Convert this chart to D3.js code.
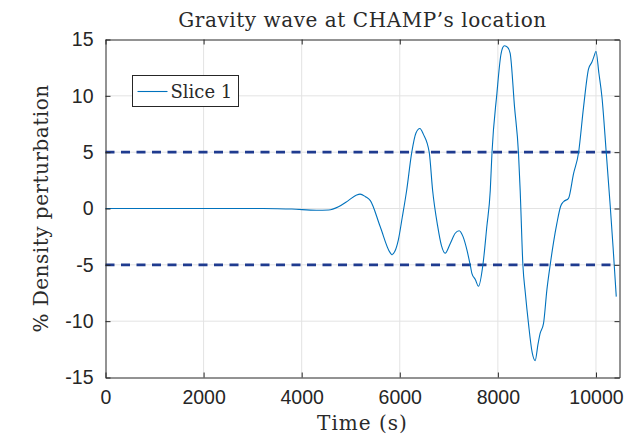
<!DOCTYPE html>
<html>
<head>
<meta charset="utf-8">
<script src="https://cdn.jsdelivr.net/npm/d3@7"></script>
<style>
  body { margin: 0; background: #fff; }
  svg { display: block; }
</style>
</head>
<body>
<div id="chart"></div>
<script>
// time (s) and % density perturbation
const timeS = [0, 1000, 2000, 3000, 3500, 3800, 4300, 4550, 4750, 4950, 5120, 5190, 5300, 5400,
  5600, 5800, 5840, 5900, 5970, 6050, 6140, 6245, 6330, 6410, 6480, 6600, 6670, 6770, 6850,
  6925, 7030, 7130, 7210, 7290, 7370, 7440, 7470, 7540, 7605, 7695, 7775, 7845, 7880, 7980,
  8060, 8100, 8135, 8200, 8250, 8340, 8420, 8455, 8510, 8560, 8624, 8700, 8760, 8820, 8863,
  8931, 9000, 9067, 9135, 9204, 9280, 9338, 9440, 9543, 9645, 9747, 9849, 9918, 9960, 10000,
  10060, 10122, 10210, 10292, 10350, 10414];
const densityPert = [0, 0, 0, 0, -0.02, -0.05, -0.16, -0.13, 0.16, 0.7, 1.2, 1.28, 1.05, 0.7,
  -1.6, -3.9, -4.1, -3.8, -2.8, -0.8, 1.6, 5.0, 6.7, 7.1, 6.6, 5.0, 1.6, -1.5, -3.3,
  -3.97, -3.1, -2.2, -1.97, -2.5, -3.7, -5.1, -5.75, -6.3, -6.9, -5.0, -1.6, 1.6, 4.95, 10.2,
  13.6, 14.3, 14.45, 14.3, 13.8, 9.0, 4.95, 1.6, -5.0, -7.5, -10.2, -12.8, -13.5, -12.0, -11.07,
  -10.2, -7.2, -5.0, -3.0, -1.3, 0.2, 0.6, 0.9, 3.1, 4.95, 9.0, 12.4, 13.0, 13.5, 13.96,
  12.0, 9.9, 4.95, 0.16, -3.5, -7.82];
const thresholds = [5, -5];
const xTicks = [0, 2000, 4000, 6000, 8000, 10000];
const yTicks = [-15, -10, -5, 0, 5, 10, 15];
const seriesName = "Slice 1";

const width = 630, height = 436;
const margin = {top: 39.5, right: 10.5, bottom: 58.5, left: 105.5};
const innerW = width - margin.left - margin.right;
const innerH = height - margin.top - margin.bottom;

const data = timeS.map((t, i) => ({t: t, v: densityPert[i]}));

const x = d3.scaleLinear().domain([0, 10480]).range([0, innerW]);
const y = d3.scaleLinear().domain([-15, 15]).range([innerH, 0]);

const svg = d3.select("#chart").append("svg")
  .attr("width", width)
  .attr("height", height);

const g = svg.append("g")
  .attr("transform", "translate(" + margin.left + "," + margin.top + ")");

// grid
g.selectAll(".gx").data(xTicks.slice(1)).enter().append("line")
  .attr("x1", d => x(d)).attr("x2", d => x(d))
  .attr("y1", 0).attr("y2", innerH)
  .attr("stroke", "#e3e3e3").attr("stroke-width", 1);
g.selectAll(".gy").data(yTicks.slice(1, -1)).enter().append("line")
  .attr("x1", 0).attr("x2", innerW)
  .attr("y1", d => y(d)).attr("y2", d => y(d))
  .attr("stroke", "#e3e3e3").attr("stroke-width", 1);

// threshold lines
g.selectAll(".thr").data(thresholds).enter().append("line")
  .attr("x1", x(0)).attr("x2", x(10414))
  .attr("y1", d => y(d)).attr("y2", d => y(d))
  .attr("stroke", "#1f3b8f").attr("stroke-width", 2.6)
  .attr("stroke-dasharray", "9,6.5");

// series
const line = d3.line()
  .x(d => x(d.t))
  .y(d => y(d.v))
  .curve(d3.curveMonotoneX);

g.append("path")
  .datum(data)
  .attr("fill", "none")
  .attr("stroke", "#0072BD")
  .attr("stroke-width", 1.1)
  .attr("d", line);

// axes (ticks pointing inward, box all round)
const tickCol = "#262626";
const fmt = d => String(d);
const axB = g.append("g").attr("transform", "translate(0," + innerH + ")")
  .call(d3.axisBottom(x).tickValues(xTicks).tickFormat(fmt).tickSizeInner(-5).tickSizeOuter(0).tickPadding(10));
const axL = g.append("g")
  .call(d3.axisLeft(y).tickValues(yTicks).tickFormat(fmt).tickSizeInner(-5).tickSizeOuter(0).tickPadding(10));
const axT = g.append("g")
  .call(d3.axisTop(x).tickValues(xTicks).tickSizeInner(-5).tickSizeOuter(0).tickFormat(""));
const axR = g.append("g").attr("transform", "translate(" + innerW + ",0)")
  .call(d3.axisRight(y).tickValues(yTicks).tickSizeInner(-5).tickSizeOuter(0).tickFormat(""));

[axB, axL, axT, axR].forEach(a => {
  a.selectAll("path").attr("stroke", tickCol).attr("stroke-width", 1);
  a.selectAll("line").attr("stroke", tickCol);
  a.selectAll("text")
    .attr("fill", tickCol)
    .style("font-family", "'Liberation Sans', Arial, sans-serif")
    .style("font-size", "19.5px");
});
axB.selectAll("text").attr("dy", "0.85em");
axL.selectAll("text").attr("dx", "-2");

// title and axis labels
const serif = "'DejaVu Serif', 'Liberation Serif', serif";
const labelCol = "#2a2a2a";
svg.append("text")
  .attr("x", margin.left + innerW / 2).attr("y", 27)
  .attr("text-anchor", "middle")
  .style("font-family", serif).style("font-size", "20px")
  .style("letter-spacing", "0.55px")
  .attr("fill", labelCol)
  .text("Gravity wave at CHAMP’s location");

svg.append("text")
  .attr("x", margin.left + innerW / 2).attr("y", 430)
  .attr("text-anchor", "middle")
  .style("font-family", serif).style("font-size", "20px")
  .style("letter-spacing", "1px")
  .attr("fill", labelCol)
  .text("Time (s)");

svg.append("text")
  .attr("transform", "translate(48," + (margin.top + innerH / 2) + ") rotate(-90)")
  .attr("text-anchor", "middle")
  .style("font-family", serif).style("font-size", "20px")
  .style("letter-spacing", "0.5px")
  .attr("fill", labelCol)
  .text("% Density perturbation");

// legend
const leg = svg.append("g").attr("transform", "translate(132.5,75.5)");
leg.append("rect")
  .attr("width", 106).attr("height", 31)
  .attr("fill", "#fff").attr("stroke", "#262626").attr("stroke-width", 1);
leg.append("line")
  .attr("x1", 5).attr("x2", 35).attr("y1", 16).attr("y2", 16)
  .attr("stroke", "#0072BD").attr("stroke-width", 1.1);
leg.append("text")
  .attr("x", 38).attr("y", 22)
  .style("font-family", serif).style("font-size", "18px")
  .attr("fill", labelCol)
  .text(seriesName);
</script>
</body>
</html>
